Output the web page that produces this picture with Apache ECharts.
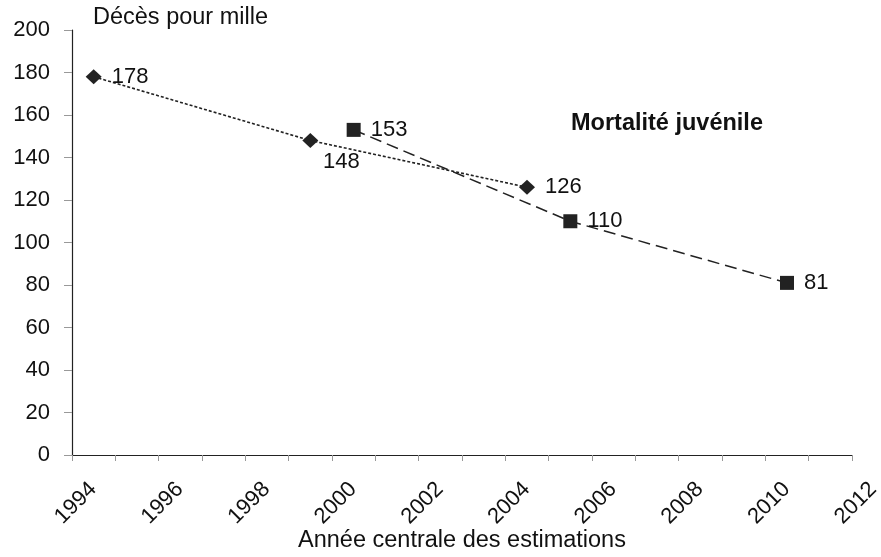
<!DOCTYPE html>
<html>
<head>
<meta charset="utf-8">
<script src="https://cdn.jsdelivr.net/npm/echarts@6/dist/echarts.min.js"></script>
<style>
  html, body { margin: 0; padding: 0; background: #fff; }
  #chart { width: 881px; height: 557px; }
</style>
</head>
<body>
<div id="chart"></div>
<script>
// Central year of each survey estimate and under-five mortality (per 1000)
const yearsA = [1994.5, 1999.5, 2004.5];
const valuesA = [178, 148, 126];
const yearsB = [2000.5, 2005.5, 2010.5];
const valuesB = [153, 110, 81];

const yAxisTitle = 'Décès pour mille';
const xAxisTitle = 'Année centrale des estimations';
const seriesNote = 'Mortalité juvénile';

const FONT = '"Liberation Sans", Arial, sans-serif';
const INK = '#111';

function pairs(xs, ys) {
  return xs.map((x, i) => [x, ys[i]]);
}

const chart = echarts.init(document.getElementById('chart'));

const dataA = pairs(yearsA, valuesA).map((p, i) => {
  const item = { value: p };
  if (i === 1) {
    item.label = { position: 'bottom', distance: 3, offset: [31, 0] };
  }
  return item;
});

chart.setOption({
  animation: false,
  backgroundColor: '#fff',
  textStyle: { fontFamily: FONT },
  grid: { left: 72, right: 29, top: 30, bottom: 102, containLabel: false, outerBoundsMode: 'none' },
  xAxis: {
    type: 'value',
    min: 1994,
    max: 2012,
    interval: 2,
    name: xAxisTitle,
    nameLocation: 'middle',
    nameGap: 86,
    nameMoveOverlap: false,
    nameTextStyle: { fontSize: 23.5, color: INK, fontFamily: FONT, verticalAlign: 'middle' },
    splitLine: { show: false },
    axisLine: { lineStyle: { color: '#222', width: 1.2 } },
    axisTick: { length: 6, lineStyle: { color: '#999' } },
    minorTick: { show: true, splitNumber: 2, length: 6, lineStyle: { color: '#999' } },
    axisLabel: {
      rotate: 45,
      align: 'center',
      verticalAlign: 'middle',
      margin: 52,
      padding: [0, 0, 0, 11],
      fontSize: 22,
      color: INK,
      fontFamily: FONT,
      hideOverlap: false,
      formatter: v => String(v)
    }
  },
  yAxis: {
    type: 'value',
    min: 0,
    max: 200,
    interval: 20,
    name: yAxisTitle,
    nameLocation: 'end',
    nameGap: 12,
    nameTextStyle: {
      fontSize: 23.5, color: INK, fontFamily: FONT,
      align: 'left', verticalAlign: 'middle', padding: [0, 0, 0, 21]
    },
    splitLine: { show: false },
    axisLine: { show: true, lineStyle: { color: '#222', width: 1.2 } },
    axisTick: { show: true, length: 8, lineStyle: { color: '#999' } },
    axisLabel: { margin: 22, fontSize: 22, color: INK, fontFamily: FONT }
  },
  graphic: [{
    type: 'text',
    left: 571,
    top: 112,
    style: {
      text: seriesNote,
      font: 'bold 23.5px ' + FONT,
      fill: INK
    }
  }],
  series: [{
    type: 'line',
    data: dataA,
    symbol: 'diamond',
    symbolSize: [16, 15],
    itemStyle: { color: '#222' },
    lineStyle: { color: '#222', width: 1.6, type: [3, 2] },
    label: {
      show: true,
      position: 'right',
      distance: 10,
      fontSize: 22,
      color: INK,
      fontFamily: FONT,
      formatter: p => String(p.value[1])
    },
    z: 3
  }, {
    type: 'line',
    data: pairs(yearsB, valuesB),
    symbol: 'rect',
    symbolSize: 14,
    itemStyle: { color: '#222' },
    lineStyle: { color: '#222', width: 1.5, type: [12, 6] },
    label: {
      show: true,
      position: 'right',
      distance: 10,
      fontSize: 22,
      color: INK,
      fontFamily: FONT,
      formatter: p => String(p.value[1])
    },
    z: 2
  }]
});
</script>
</body>
</html>
